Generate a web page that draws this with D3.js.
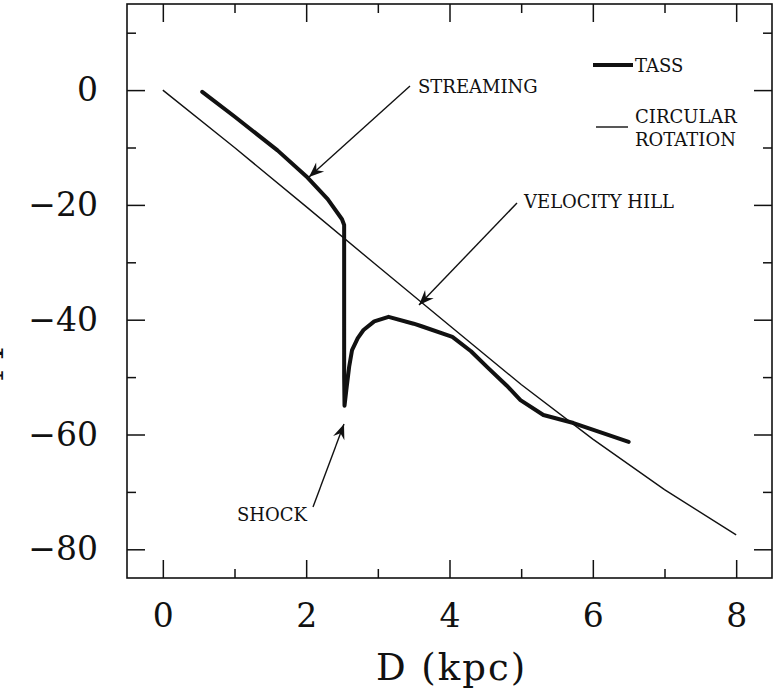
<!DOCTYPE html>
<html>
<head>
<meta charset="utf-8">
<script src="https://cdn.jsdelivr.net/npm/d3@7"></script>
<style>
  body { margin: 0; background: #fff; }
  svg { display: block; }
  text { font-family: "DejaVu Serif", serif; fill: #111; }
  .tick-lbl { font-size: 33px; }
  .note { font-size: 18px; }
</style>
</head>
<body>
<div id="chart"></div>
<script>
// data
let tassD = [0.55, 1.0, 1.6, 2.0, 2.3, 2.5, 2.53, 2.53, 2.535, 2.56, 2.6, 2.64, 2.72, 2.8, 2.95, 3.15, 3.5, 3.6, 4.04, 4.3, 4.53, 4.8, 4.99, 5.31, 5.73, 6.1, 6.5];
let tassV = [-0.3, -4.6, -10.5, -15.0, -19.0, -22.5, -23.5, -50, -55, -52.3, -48.2, -45.3, -43.2, -41.8, -40.3, -39.5, -40.7, -41.1, -43.0, -45.5, -48.3, -51.5, -54.0, -56.6, -58.0, -59.6, -61.3];
let circD = [0, 1, 2, 3, 4, 5, 6, 7, 8];
let circV = [0, -10, -20.3, -30.7, -41.0, -51.3, -60.8, -69.6, -77.5];

let xMajor = [0, 2, 4, 6, 8];
let xMinor = [1, 3, 5, 7];
let yMajor = [0, -20, -40, -60, -80];
let yMinor = [10, -10, -30, -50, -70];

let notes = [
    {label: "STREAMING", tx: 418, ty: 93, from: [410, 86], to: [309, 177]},
    {label: "VELOCITY HILL", tx: 524, ty: 208, from: [517, 203], to: [419, 305]},
    {label: "SHOCK", tx: 237, ty: 521, from: [313, 507], to: [344, 424]}
];

let width = 784, height = 690;
let margin = {top: 4, right: 12, bottom: 112, left: 127};

let svg = d3.select("#chart").append("svg")
    .attr("width", width)
    .attr("height", height);

let x = d3.scaleLinear().domain([-0.5, 8.5]).range([margin.left, width - margin.right]);
let y = d3.scaleLinear().domain([-85, 15]).range([height - margin.bottom, margin.top]);

let x0 = x.range()[0], x1 = x.range()[1];
let y0 = y.range()[1], y1 = y.range()[0];

// arrow head
svg.append("defs").append("marker")
    .attr("id", "head")
    .attr("markerUnits", "userSpaceOnUse")
    .attr("viewBox", "-16 -7 18 14")
    .attr("markerWidth", 18)
    .attr("markerHeight", 14)
    .attr("refX", 0)
    .attr("refY", 0)
    .attr("orient", "auto")
    .append("path")
    .attr("d", "M0,0 L-15,-6 L-10,0 L-15,6 Z")
    .attr("fill", "#111");

// axes, ticks pointing inwards
function drawAxis(axis, tr, vals, size, labels, pad) {
    let g = svg.append("g")
        .attr("transform", tr)
        .call(axis.tickValues(vals).tickSize(-size).tickSizeOuter(0).tickPadding(pad || 0)
            .tickFormat(labels ? d3.format("d") : ""));
    g.select(".domain").remove();
    g.selectAll(".tick line").attr("stroke", "#111").attr("stroke-width", 1.5);
    g.selectAll(".tick text").attr("class", "tick-lbl").attr("fill", "#111").attr("font-family", null).attr("font-size", null);
    return g;
}

drawAxis(d3.axisBottom(x), `translate(0,${y1})`, xMajor, 18, true, 26);
drawAxis(d3.axisBottom(x), `translate(0,${y1})`, xMinor, 9, false);
drawAxis(d3.axisTop(x), `translate(0,${y0})`, xMajor, 18, false);
drawAxis(d3.axisTop(x), `translate(0,${y0})`, xMinor, 9, false);
drawAxis(d3.axisLeft(y), `translate(${x0},0)`, yMajor, 18, true, 29);
drawAxis(d3.axisLeft(y), `translate(${x0},0)`, yMinor, 9, false);
drawAxis(d3.axisRight(y), `translate(${x1},0)`, yMajor, 18, false);
drawAxis(d3.axisRight(y), `translate(${x1},0)`, yMinor, 9, false);

svg.append("rect")
    .attr("x", x0)
    .attr("y", y0)
    .attr("width", x1 - x0)
    .attr("height", y1 - y0)
    .attr("fill", "none")
    .attr("stroke", "#111")
    .attr("stroke-width", 1.6);

// axis titles
svg.append("text")
    .text("D (kpc)")
    .attr("x", x(4) + 2)
    .attr("y", 680)
    .attr("text-anchor", "middle")
    .attr("font-size", 37)
    .attr("letter-spacing", 2);

// y title, mostly cut off by the page edge
svg.append("text")
    .text("M")
    .attr("transform", "translate(3,364) rotate(-90)")
    .attr("text-anchor", "middle")
    .attr("font-size", 34);

// curves
let line = d3.line().x(d => x(d[0])).y(d => y(d[1]));

svg.append("path")
    .datum(d3.zip(circD, circV))
    .attr("d", line)
    .attr("fill", "none")
    .attr("stroke", "#111")
    .attr("stroke-width", 1.4);

svg.append("path")
    .datum(d3.zip(tassD, tassV))
    .attr("d", line)
    .attr("fill", "none")
    .attr("stroke", "#111")
    .attr("stroke-width", 4)
    .attr("stroke-linejoin", "round")
    .attr("stroke-linecap", "round");

// annotations
notes.forEach(n => {
    svg.append("line")
        .attr("x1", n.from[0]).attr("y1", n.from[1])
        .attr("x2", n.to[0]).attr("y2", n.to[1])
        .attr("stroke", "#111")
        .attr("stroke-width", 1.4)
        .attr("marker-end", "url(#head)");
    svg.append("text")
        .attr("class", "note")
        .attr("x", n.tx)
        .attr("y", n.ty)
        .text(n.label);
});

// legend
let leg = svg.append("g");
leg.append("line").attr("x1", 593).attr("x2", 633).attr("y1", 65).attr("y2", 65)
    .attr("stroke", "#111").attr("stroke-width", 4);
leg.append("text").attr("class", "note").attr("x", 635).attr("y", 72).text("TASS");
leg.append("line").attr("x1", 596).attr("x2", 628).attr("y1", 127).attr("y2", 127)
    .attr("stroke", "#111").attr("stroke-width", 1.4);
leg.append("text").attr("class", "note").attr("x", 635).attr("y", 123).text("CIRCULAR");
leg.append("text").attr("class", "note").attr("x", 635).attr("y", 146).text("ROTATION");
</script>
</body>
</html>
